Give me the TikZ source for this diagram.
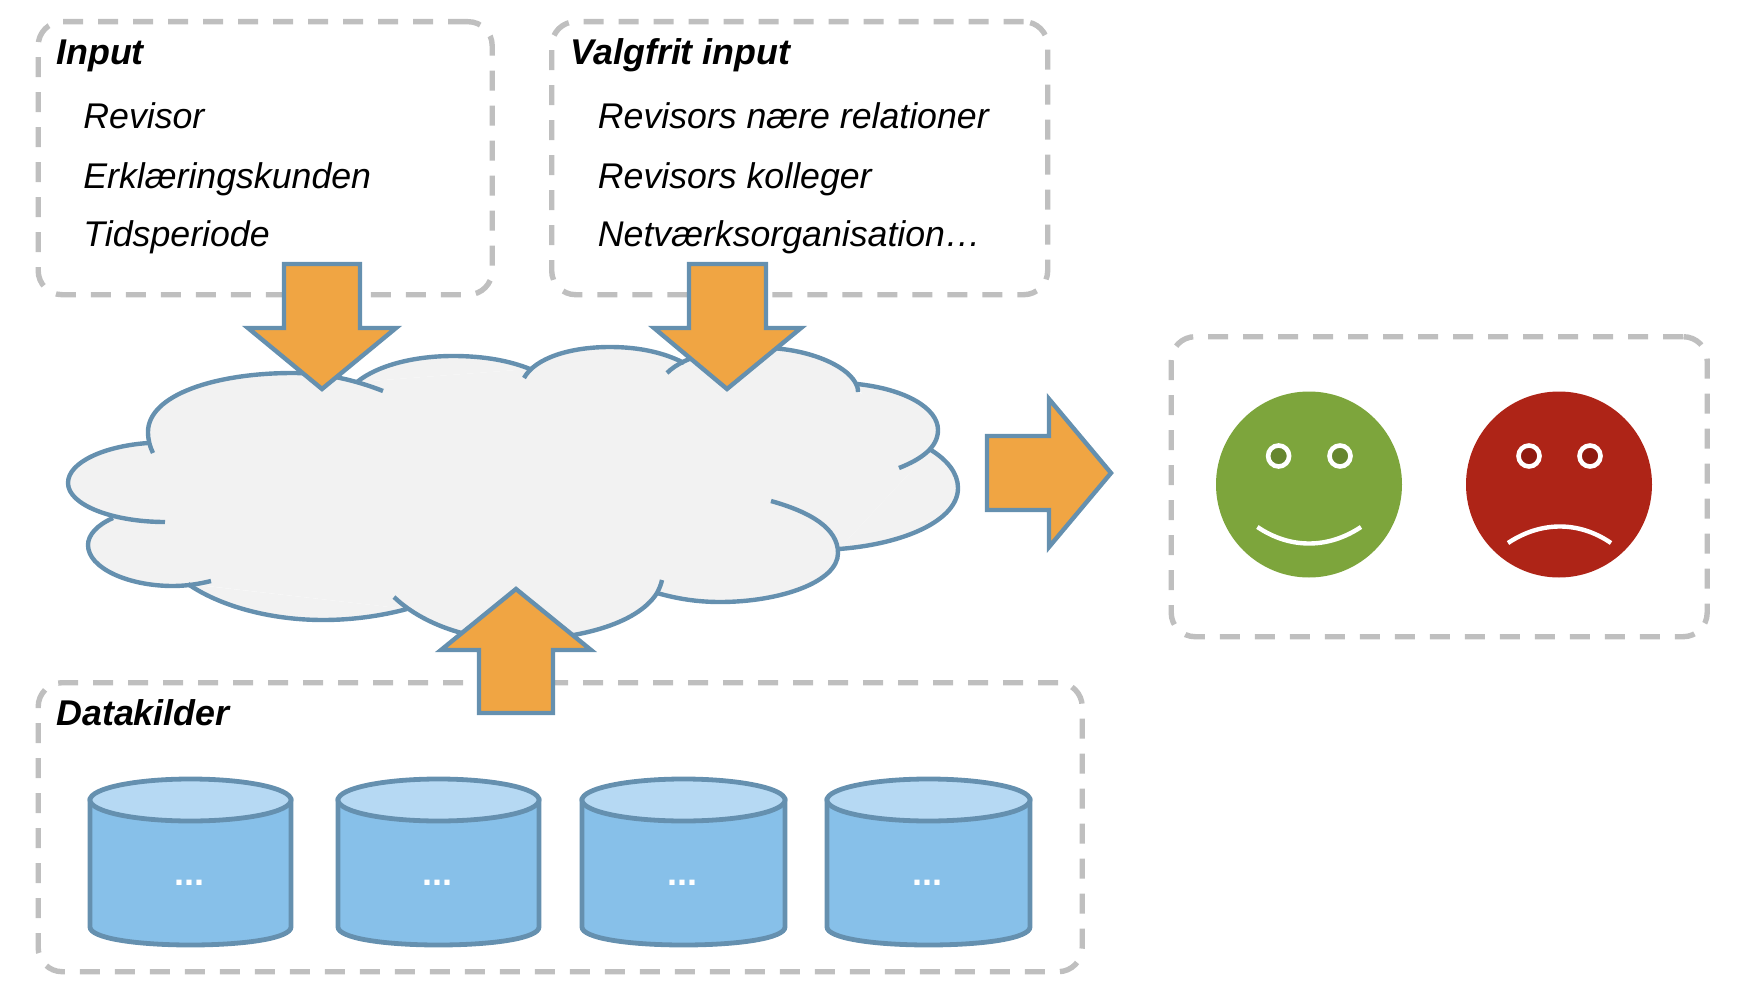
\documentclass[tikz,border=0pt]{standalone}
\usepackage{fontspec}
\setmainfont{Liberation Sans}
\definecolor{edgeblue}{HTML}{6590AF}
\definecolor{arroworange}{HTML}{F0A543}
\definecolor{cloudgrey}{HTML}{F2F2F2}
\definecolor{framegrey}{HTML}{BFBFBF}
\definecolor{drumside}{HTML}{87C0E9}
\definecolor{drumtop}{HTML}{B6D9F3}
\definecolor{happy}{HTML}{7DA53C}
\definecolor{happyeye}{HTML}{66862F}
\definecolor{sad}{HTML}{AE2417}
\definecolor{sadeye}{HTML}{8F1A10}
\tikzset{
  framebox/.style={draw=framegrey,line width=2.7pt,rounded corners=12pt,dash pattern=on 10pt off 7.5pt,
    inner sep=0pt,anchor=north west},
  heading/.style={anchor=base west,inner sep=0pt,font=\fontsize{17.9pt}{20pt}\selectfont\bfseries\itshape},
  entry/.style={anchor=base west,inner sep=0pt,font=\fontsize{17.85pt}{20pt}\selectfont\itshape},
  blockarrow/.style={draw=edgeblue,fill=arroworange,line width=2.2pt,miter limit=10},
  cloudfill/.style={fill=cloudgrey},
  cloudline/.style={draw=edgeblue,line width=2.2pt},
  drumline/.style={draw=edgeblue,line width=2.4pt},
  dotslabel/.style={text=white,inner sep=0pt,font=\fontsize{18pt}{20pt}\selectfont\bfseries},
  eye/.style={draw=white,line width=2.3pt},
  mouth/.style={draw=white,line width=2.2pt},
}
% the open curves that make up the cloud
\newcommand{\lobes}[1]{%
  \path[#1] (148,443) .. controls (105,446) and (68,462) .. (68,483) .. controls (68,505) and (113,522) .. (165,522);
  \path[#1] (383,391) .. controls (355,380) and (325,373) .. (293,373) .. controls (215,373) and (148,395) .. (148,432) .. controls (148,440) and (150,447) .. (153,453);
  \path[#1] (113,518) .. controls (97,525) and (88,535) .. (88,545) .. controls (88,568) and (128,586) .. (173,586) .. controls (186,586) and (199,584) .. (211,581);
  \path[#1] (188,584) .. controls (218,605) and (268,620) .. (323,620) .. controls (352,620) and (381,616) .. (407,609);
  \path[#1] (394,597) .. controls (420,622) and (465,640) .. (515,640) .. controls (575,640) and (637,625) .. (657,593) .. controls (659,589) and (661,585) .. (662,580);
  \path[#1] (657,593) .. controls (678,599) and (698,602) .. (720,602) .. controls (780,602) and (838,582) .. (838,553) .. controls (838,528) and (810,512) .. (771,501);
  \path[#1] (839,549) .. controls (905,544) and (958,520) .. (958,488) .. controls (958,473) and (947,460) .. (931,450);
  \path[#1] (899,468) .. controls (922,459) and (938,447) .. (938,430) .. controls (938,408) and (905,389) .. (857,384);
  \path[#1] (858,392) .. controls (858,388) and (857,385) .. (855,382) .. controls (845,365) and (810,350) .. (770,348) .. controls (725,346) and (685,355) .. (667,373);
  \path[#1] (524,378) .. controls (535,358) and (570,347) .. (610,347) .. controls (640,347) and (665,353) .. (684,363);
  \path[#1] (357,382) .. controls (378,365) and (415,356) .. (453,356) .. controls (485,356) and (510,361) .. (530,369);
}
% a drum-shaped data store with its left edge at #1
\newcommand{\drum}[3]{%
  \path[drumline,fill=drumside] (#1,800) -- (#1,927)
    .. controls (#1,938) and ({#1+45},945) .. ({#1+#2/2},945)
    .. controls ({#1+#2-45},945) and ({#1+#2},938) .. ({#1+#2},927)
    -- ({#1+#2},800) -- cycle;
  \path[drumline,fill=drumtop] ({#1+#2/2},800) ellipse [x radius=#2/2,y radius=21];
  \node[dotslabel] (#3) at ({#1+#2/2-1},883) {...};
}
\begin{document}
\begin{tikzpicture}[x=0.5pt,y=-0.5pt]
\useasboundingbox (0,0) rectangle (1742,990);
% dashed frames
\node[framebox,minimum width=227pt,minimum height=136.5pt] (inputframe) at (35.5,19) {};
\node[framebox,minimum width=248pt,minimum height=136.5pt] (optionframe) at (549,19) {};
\node[framebox,minimum width=268pt,minimum height=150pt] (resultframe) at (1168.5,334) {};
\node[framebox,minimum width=522pt,minimum height=144.5pt] (sourceframe) at (35.5,680) {};
% frame texts
\node[heading] (inputhead) at (56,64.5) {Input};
\node[entry] (inputa) at (83,129) {Revisor};
\node[entry] (inputb) at (83,189) {Erklæringskunden};
\node[entry] (inputc) at (83,247) {Tidsperiode};
\node[heading] (optionhead) at (570.5,64.5) {Valgfrit input};
\node[entry] (optiona) at (597.5,129) {Revisors nære relationer};
\node[entry] (optionb) at (597.5,189) {Revisors kolleger};
\node[entry] (optionc) at (597.5,247) {Netværksorganisation…};
\node[heading] (sourcehead) at (56,725) {Datakilder};
% cloud: fills first, outlines on top
\lobes{cloudfill}
\fill[cloudgrey] (148,440) -- (357,382) -- (530,369) -- (690,361) -- (857,390) -- (931,450)
  -- (839,549) -- (657,593) -- (407,609) -- (190,584) -- (113,518) -- cycle;
\lobes{cloudline}
% block arrows
\draw[blockarrow] (284,264) -- (360,264) -- (360,328) -- (396,328) -- (322,389) -- (248,328) -- (284,328) -- cycle;
\draw[blockarrow] (689,264) -- (766,264) -- (766,328) -- (801,328) -- (727,389) -- (654,328) -- (689,328) -- cycle;
\draw[blockarrow] (479,713) -- (553,713) -- (553,650) -- (591,650) -- (516,589) -- (441,650) -- (479,650) -- cycle;
\draw[blockarrow] (987,436) -- (1049,436) -- (1049,399) -- (1111,473) -- (1049,547) -- (1049,510) -- (987,510) -- cycle;
% data stores
\drum{90}{201}{dotsa}
\drum{338}{201}{dotsb}
\drum{582}{203}{dotsc}
\drum{827}{203}{dotsd}
% faces
\fill[happy] (1309,484.5) circle [radius=93];
\draw[eye,fill=happyeye] (1278.6,456) circle [radius=10.5];
\draw[eye,fill=happyeye] (1340,456) circle [radius=10.5];
\draw[mouth] (1257.4,527) .. controls (1290,549) and (1328,549) .. (1361,527);
\fill[sad] (1559,484.5) circle [radius=93];
\draw[eye,fill=sadeye] (1529,456) circle [radius=10.5];
\draw[eye,fill=sadeye] (1590,456) circle [radius=10.5];
\draw[mouth] (1508,543) .. controls (1541,521) and (1579,521) .. (1611,543);
\end{tikzpicture}
\end{document}
